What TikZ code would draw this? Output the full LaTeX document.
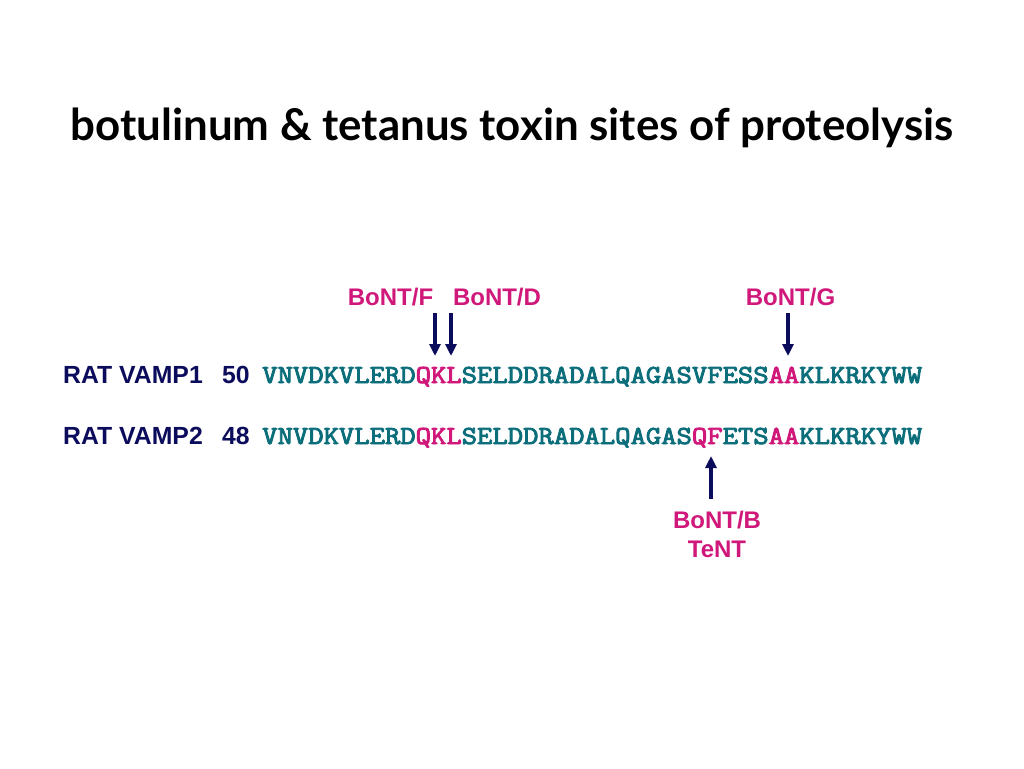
\documentclass[tikz,border=0pt]{standalone}
\usepackage{fontspec}
\setmainfont{Liberation Sans}
\newfontfamily\seqfont[FakeBold=3.2]{Latin Modern Mono}
\newfontfamily\titlefont{Lato}
\usetikzlibrary{arrows.meta}
\definecolor{navy}{HTML}{0C0C5C}
\definecolor{seqteal}{HTML}{0B6E7A}
\definecolor{hot}{HTML}{D0187A}
\tikzset{
  lbl/.style={font=\fontsize{24.8}{28}\selectfont\bfseries, text=navy, inner sep=0pt, anchor=base west},
  seq/.style={font=\fontsize{29.8}{32}\selectfont\seqfont, text=seqteal, inner sep=0pt, anchor=base west},
  tox/.style={font=\fontsize{24}{28}\selectfont\bfseries, text=hot, inner sep=0pt, align=center},
  cut/.style={draw=navy, line width=3.6pt, -{Triangle[length=12pt,width=11pt]}},
}
\newcommand{\hl}[1]{\textcolor{hot}{#1}}
\begin{document}
\begin{tikzpicture}[x=1pt,y=-1pt]
\useasboundingbox (0,0) rectangle (1024,768);
\node[inner sep=0pt, anchor=base] (title) at (512,140)
  {\resizebox{883pt}{!}{\titlefont\fontsize{38}{44}\selectfont\bfseries botulinum \& tetanus toxin sites of proteolysis}};
\node[lbl] (l1) at (63,383) {RAT VAMP1};
\node[lbl] (n1) at (222,383) {50};
\node[lbl] (l2) at (63,444) {RAT VAMP2};
\node[lbl] (n2) at (222,444) {48};
\node[seq] (s1) at (262,383) {\scalebox{1}[0.87]{VNVDKVLERD\hl{QKL}SELDDRADALQAGASVFESS\hl{AA}KLKRKYWW}};
\node[seq] (s2) at (262,444) {\scalebox{1}[0.87]{VNVDKVLERD\hl{QKL}SELDDRADALQAGAS\hl{QF}ETS\hl{AA}KLKRKYWW}};
\node[tox, anchor=base] (bf) at (390.5,305) {BoNT/F};
\node[tox, anchor=base] (bd) at (497,305) {BoNT/D};
\node[tox, anchor=base] (bg) at (790.5,305) {BoNT/G};
\node[tox, anchor=north] (bb) at (717,511) {BoNT/B\\[1pt]TeNT};
\coordinate (f0) at (435,313); \coordinate (f1) at (435,356);
\coordinate (d0) at (451,313); \coordinate (d1) at (451,356);
\coordinate (g0) at (788,313); \coordinate (g1) at (788,356);
\coordinate (b0) at (711,499); \coordinate (b1) at (711,456);
\draw[cut] (f0) -- (f1);
\draw[cut] (d0) -- (d1);
\draw[cut] (g0) -- (g1);
\draw[cut] (b0) -- (b1);
\end{tikzpicture}
\end{document}
